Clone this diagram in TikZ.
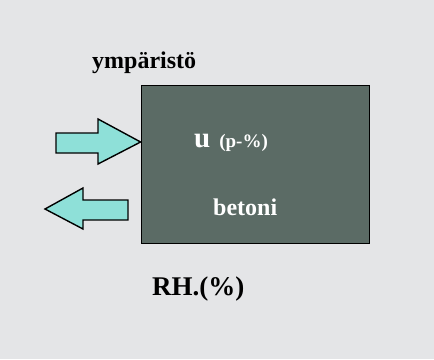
\documentclass[tikz,border=0pt]{standalone}
\usepackage{fontspec}
\setmainfont{Liberation Serif}
\usetikzlibrary{positioning}

\definecolor{tausta}{HTML}{E4E5E7}
\definecolor{laattavari}{HTML}{5B6B65}
\definecolor{nuolivari}{HTML}{8EE0D8}

\begin{document}
\begin{tikzpicture}[
    x=1pt, y=-1pt,
  slab/.style = {draw=black, line width=0.8pt, fill=laattavari,
                 minimum width=228pt, minimum height=158pt, inner sep=0pt},
 flow/.style = {draw=black, line width=1.4pt, fill=nuolivari, line join=miter},
  lbl/.style = {inner sep=0pt, anchor=base west, font=\bfseries}
                    ]
\fill[tausta] (0,0) rectangle (434,359);
\useasboundingbox (0,0) rectangle (434,359);

\node (laatta) [slab] at (255,164) {};
\node (ymp)   [lbl, font=\bfseries\fontsize{24}{26}\selectfont] at (92,68) {ympäristö};
\node (u)     [lbl, text=white] at (194,147)
      {{\fontsize{29}{30}\selectfont u}\hspace{9pt}{\fontsize{19}{21}\selectfont (p-\%)}};
\node (betoni) [lbl, text=white, font=\bfseries\fontsize{24}{26}\selectfont] at (213,215) {betoni};
\node (rh)    [lbl, font=\bfseries\fontsize{27}{29}\selectfont] at (152,295) {RH.(\%)};

% kosteus sisaan ja ulos
\coordinate (sisaan) at (laatta.west |- 0,142);
\coordinate (ulos) at (45,209);
\draw[flow] (56,133) -- (98,133) -- (98,119) -- (sisaan) -- (98,164)
            -- (98,153) -- (56,153) -- cycle;
\draw[flow] (128,200) -- (83,200) -- (83,188) -- (ulos) -- (83,229)
            -- (83,220) -- (128,220) -- cycle;
\end{tikzpicture}
\end{document}
